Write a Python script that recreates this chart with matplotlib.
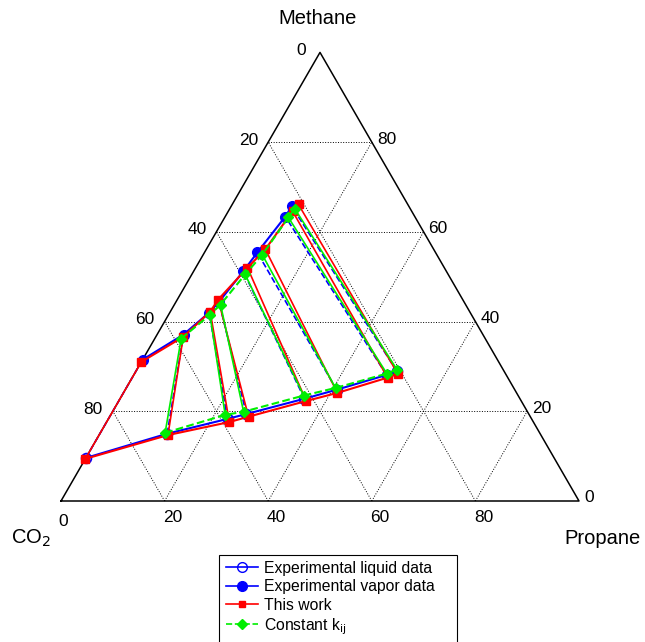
import numpy as np
import matplotlib.pyplot as plt
from matplotlib.lines import Line2D
from matplotlib.patches import Rectangle

plt.rcParams['font.family'] = ['Liberation Sans', 'DejaVu Sans']

# mole % of methane (c1) and propane (c3); CO2 is the rest
exp_vap_c1 = [31.5, 37.1, 42.0, 44.4, 51.2, 55.4, 63.4, 65.7]
exp_vap_c3 = [0.0, 5.1, 7.6, 8.3, 9.6, 10.2, 11.6, 11.7]
exp_liq_c1 = [9.6, 15.0, 18.3, 19.4, 22.8, 24.8, 28.1, 29.0]
exp_liq_c3 = [0.0, 13.0, 23.0, 26.1, 35.6, 40.8, 48.8, 50.3]

tw_vap_c1 = [31.0, 36.6, 42.2, 44.9, 52.0, 56.1, 64.6, 66.1]
tw_vap_c3 = [0.0, 5.3, 7.7, 7.9, 10.0, 11.4, 12.4, 12.8]
tw_liq_c1 = [9.4, 14.7, 17.6, 18.8, 22.3, 24.1, 27.5, 28.4]
tw_liq_c3 = [0.0, 13.3, 23.7, 26.8, 36.2, 41.3, 49.3, 50.8]

kij_vap_c1 = [36.2, 41.5, 43.8, 50.5, 54.9, 63.2, 65.2]
kij_vap_c3 = [5.1, 8.0, 8.9, 10.3, 11.4, 12.3, 12.5]
kij_liq_c1 = [15.2, 19.2, 19.9, 23.5, 25.2, 28.4, 29.3]
kij_liq_c3 = [12.5, 22.1, 25.3, 35.1, 40.4, 48.7, 50.2]

ticks = [0, 20, 40, 60, 80]

S3 = np.sqrt(3) / 2
PX = 518.0  # pixels per unit side


def tern(c1, c3):
    c1 = np.asarray(c1) / 100.0
    c3 = np.asarray(c3) / 100.0
    return c3 + c1 / 2, c1 * S3


fig = plt.figure(figsize=(6.45, 6.42), dpi=100)
ax = fig.add_axes([0, 0, 1, 1])
ax.set_xlim(-61 / PX, 584 / PX)
ax.set_ylim(-141 / PX, 501 / PX)
ax.axis('off')

# grid
for t in ticks[1:]:
    f = t / 100
    ax.plot([f / 2, 1 - f / 2], [f * S3, f * S3], ':', color='k', lw=0.7)
    ax.plot([f, f / 2], [0, f * S3], ':', color='k', lw=0.7)
    ax.plot([f, (1 + f) / 2], [0, (1 - f) * S3], ':', color='k', lw=0.7)
ax.plot([0, 1, 0.5, 0], [0, 0, S3, 0], color='k', lw=1.1)

# tick labels
fs = 12.5
for t in ticks:
    f = t / 100
    # left side
    x, y = (1 - f) / 2, (1 - f) * S3
    dx = -14 if t == 0 else -10
    ax.text(x + dx / PX, y + 2 / PX, str(t), ha='right', va='center', fontsize=fs)
    # right side
    x, y = 1 - f / 2, f * S3
    ax.text(x + 5 / PX, y + 3 / PX, str(t), ha='left', va='center', fontsize=fs)
    # bottom
    dx = 2 if t == 0 else 8
    dy = -20 if t == 0 else -17
    ax.text(f + dx / PX, dy / PX, str(t), ha='center', va='center', fontsize=fs)

ax.text(0.5 - 2 / PX, (449 + 34) / PX, 'Methane', ha='center', va='center', fontsize=14.5)
ax.text(-30 / PX, -37 / PX, 'CO$_2$', ha='center', va='center', fontsize=14.5)
ax.text(541 / PX, -37 / PX, 'Propane', ha='center', va='center', fontsize=14.5)

# experimental
xv, yv = tern(exp_vap_c1, exp_vap_c3)
xl, yl = tern(exp_liq_c1, exp_liq_c3)
for i in range(len(xv)):
    ax.plot([xl[i], xv[i]], [yl[i], yv[i]], '--', color='b', lw=1.2)
ax.plot(xl, yl, '-o', color='b', lw=1.5, ms=7, mfc='none', mew=1.3)
ax.plot(xv, yv, '-o', color='b', lw=1.5, ms=7)

# this work
xv, yv = tern(tw_vap_c1, tw_vap_c3)
xl, yl = tern(tw_liq_c1, tw_liq_c3)
for i in range(len(xv)):
    ax.plot([xl[i], xv[i]], [yl[i], yv[i]], '-', color='r', lw=1.2)
ax.plot(xl, yl, '-s', color='r', lw=1.5, ms=6)
ax.plot(xv, yv, '-s', color='r', lw=1.5, ms=6)

# constant kij
xv, yv = tern(kij_vap_c1, kij_vap_c3)
xl, yl = tern(kij_liq_c1, kij_liq_c3)
for i in range(len(xv)):
    ax.plot([xl[i], xv[i]], [yl[i], yv[i]], '-', color='#00ee00', lw=1.2)
ax.plot(xl, yl, '--D', color='#00ee00', lw=1.5, ms=5.5)
ax.plot(xv, yv, '--D', color='#00ee00', lw=1.5, ms=5.5)

handles = [
    Line2D([], [], color='b', marker='o', mfc='none', ms=7, lw=1.2),
    Line2D([], [], color='b', marker='o', ms=7, lw=1.2),
    Line2D([], [], color='r', marker='s', ms=5, lw=1.2),
    Line2D([], [], color='#00ee00', marker='D', ms=5, lw=1.2, ls='--'),
]
labels = ['Experimental liquid data', 'Experimental vapor data', 'This work', 'Constant k$_{\\mathrm{ij}}$']
leg = ax.legend(handles, labels, loc='upper left',
                bbox_to_anchor=(221 / 645, 1 - 556 / 642), bbox_transform=fig.transFigure,
                fontsize=11.3, frameon=False,
                handlelength=2.05, handletextpad=0.4, labelspacing=0.22,
                borderpad=0.3, borderaxespad=0)
# legend box runs past the bottom of the figure
fig.patches.append(Rectangle((219 / 645, -0.05), (457 - 219) / 645, 0.05 + 87 / 642,
                             transform=fig.transFigure, fill=False, ec='k', lw=0.8))

fig.savefig('out.png', dpi=100)
